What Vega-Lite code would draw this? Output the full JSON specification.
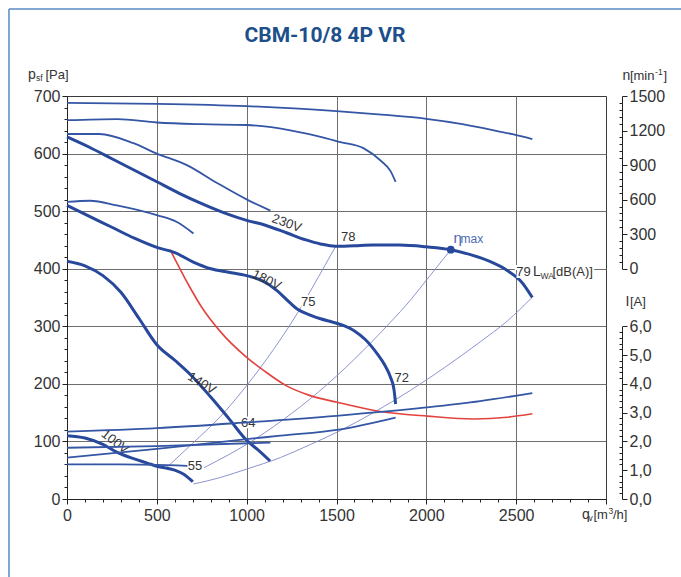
{
  "$schema": "https://vega.github.io/schema/vega-lite/v6.json",
  "width": 539,
  "height": 403,
  "autosize": "none",
  "padding": {"left": 67, "top": 96, "right": 75, "bottom": 78},
  "background": "white",
  "config": {
    "view": {"stroke": "#3a3a3a", "strokeWidth": 1},
    "font": "Liberation Sans",
    "axis": {"labelFont": "Liberation Sans", "labelColor": "#333", "labelFontSize": 16, "domainColor": "#222", "tickColor": "#222", "gridColor": "#6e6e6e", "gridOpacity": 1, "labelOverlap": false, "labelFlush": false, "title": null}
  },
  "datasets": {
    "frame": [
      {"q": -323, "p": -140, "q2": -323, "p2": 851},
      {"q": -323, "p": 851, "q2": 3430, "p2": 851}
    ],
    "fan": [
      {"s": "230V", "q": 0, "p": 629}, {"s": "230V", "q": 125, "p": 611}, {"s": "230V", "q": 250, "p": 591}, {"s": "230V", "q": 375, "p": 571}, {"s": "230V", "q": 500, "p": 551}, {"s": "230V", "q": 625, "p": 531}, {"s": "230V", "q": 750, "p": 513}, {"s": "230V", "q": 875, "p": 497}, {"s": "230V", "q": 1000, "p": 484}, {"s": "230V", "q": 1100, "p": 476}, {"s": "230V", "q": 1225, "p": 462}, {"s": "230V", "q": 1330, "p": 450}, {"s": "230V", "q": 1411, "p": 443}, {"s": "230V", "q": 1494, "p": 439}, {"s": "230V", "q": 1600, "p": 440}, {"s": "230V", "q": 1700, "p": 441}, {"s": "230V", "q": 1850, "p": 441}, {"s": "230V", "q": 2000, "p": 438}, {"s": "230V", "q": 2136, "p": 433}, {"s": "230V", "q": 2250, "p": 424}, {"s": "230V", "q": 2350, "p": 413}, {"s": "230V", "q": 2450, "p": 397}, {"s": "230V", "q": 2530, "p": 377}, {"s": "230V", "q": 2590, "p": 350},
      {"s": "180V", "q": 0, "p": 510}, {"s": "180V", "q": 125, "p": 491}, {"s": "180V", "q": 250, "p": 472}, {"s": "180V", "q": 375, "p": 453}, {"s": "180V", "q": 500, "p": 437}, {"s": "180V", "q": 600, "p": 428}, {"s": "180V", "q": 700, "p": 412}, {"s": "180V", "q": 800, "p": 400}, {"s": "180V", "q": 900, "p": 394}, {"s": "180V", "q": 1000, "p": 388}, {"s": "180V", "q": 1080, "p": 380}, {"s": "180V", "q": 1169, "p": 362}, {"s": "180V", "q": 1230, "p": 344}, {"s": "180V", "q": 1281, "p": 330}, {"s": "180V", "q": 1350, "p": 320}, {"s": "180V", "q": 1411, "p": 313}, {"s": "180V", "q": 1480, "p": 307}, {"s": "180V", "q": 1541, "p": 301}, {"s": "180V", "q": 1600, "p": 292}, {"s": "180V", "q": 1660, "p": 277}, {"s": "180V", "q": 1727, "p": 252}, {"s": "180V", "q": 1770, "p": 232}, {"s": "180V", "q": 1800, "p": 212}, {"s": "180V", "q": 1820, "p": 190}, {"s": "180V", "q": 1829, "p": 165},
      {"s": "140V", "q": 0, "p": 413}, {"s": "140V", "q": 100, "p": 405}, {"s": "140V", "q": 200, "p": 388}, {"s": "140V", "q": 300, "p": 359}, {"s": "140V", "q": 400, "p": 314}, {"s": "140V", "q": 500, "p": 268}, {"s": "140V", "q": 600, "p": 241}, {"s": "140V", "q": 700, "p": 212}, {"s": "140V", "q": 800, "p": 177}, {"s": "140V", "q": 900, "p": 140}, {"s": "140V", "q": 1000, "p": 102}, {"s": "140V", "q": 1060, "p": 86}, {"s": "140V", "q": 1130, "p": 66},
      {"s": "100V", "q": 0, "p": 110}, {"s": "100V", "q": 100, "p": 106}, {"s": "100V", "q": 200, "p": 95}, {"s": "100V", "q": 280, "p": 81}, {"s": "100V", "q": 370, "p": 70}, {"s": "100V", "q": 450, "p": 62}, {"s": "100V", "q": 500, "p": 57}, {"s": "100V", "q": 600, "p": 50}, {"s": "100V", "q": 650, "p": 43}, {"s": "100V", "q": 700, "p": 30}
    ],
    "red": [
      {"q": 574, "p": 433}, {"q": 620, "p": 405}, {"q": 680, "p": 370}, {"q": 750, "p": 333}, {"q": 850, "p": 292}, {"q": 1000, "p": 246}, {"q": 1100, "p": 222}, {"q": 1225, "p": 196}, {"q": 1350, "p": 180}, {"q": 1504, "p": 168}, {"q": 1727, "p": 153}, {"q": 2006, "p": 144}, {"q": 2266, "p": 139}, {"q": 2450, "p": 142}, {"q": 2590, "p": 148}
    ],
    "sys": [
      {"s": "B", "q": 556, "p": 55}, {"s": "B", "q": 700, "p": 97}, {"s": "B", "q": 850, "p": 142}, {"s": "B", "q": 1000, "p": 197}, {"s": "B", "q": 1150, "p": 260}, {"s": "B", "q": 1281, "p": 322}, {"s": "B", "q": 1400, "p": 386}, {"s": "B", "q": 1494, "p": 438},
      {"s": "C", "q": 760, "p": 54}, {"s": "C", "q": 900, "p": 77}, {"s": "C", "q": 1000, "p": 95}, {"s": "C", "q": 1200, "p": 137}, {"s": "C", "q": 1400, "p": 186}, {"s": "C", "q": 1600, "p": 243}, {"s": "C", "q": 1800, "p": 307}, {"s": "C", "q": 1913, "p": 346}, {"s": "C", "q": 2000, "p": 380}, {"s": "C", "q": 2136, "p": 433},
      {"s": "D", "q": 704, "p": 26}, {"s": "D", "q": 850, "p": 37}, {"s": "D", "q": 1000, "p": 52}, {"s": "D", "q": 1188, "p": 72}, {"s": "D", "q": 1350, "p": 94}, {"s": "D", "q": 1522, "p": 119}, {"s": "D", "q": 1700, "p": 149}, {"s": "D", "q": 1913, "p": 189}, {"s": "D", "q": 2100, "p": 228}, {"s": "D", "q": 2300, "p": 273}, {"s": "D", "q": 2450, "p": 309}, {"s": "D", "q": 2588, "p": 350}
    ],
    "eta": [{"q": 2136, "p": 433}],
    "speed": [
      {"s": "230V", "q": 0, "n": 1440}, {"s": "230V", "q": 500, "n": 1432}, {"s": "230V", "q": 1000, "n": 1412}, {"s": "230V", "q": 1500, "n": 1368}, {"s": "230V", "q": 1750, "n": 1338}, {"s": "230V", "q": 2000, "n": 1302}, {"s": "230V", "q": 2200, "n": 1256}, {"s": "230V", "q": 2350, "n": 1210}, {"s": "230V", "q": 2480, "n": 1168}, {"s": "230V", "q": 2590, "n": 1125},
      {"s": "180V", "q": 0, "n": 1290}, {"s": "180V", "q": 280, "n": 1300}, {"s": "180V", "q": 500, "n": 1270}, {"s": "180V", "q": 750, "n": 1255}, {"s": "180V", "q": 1000, "n": 1248}, {"s": "180V", "q": 1250, "n": 1200}, {"s": "180V", "q": 1400, "n": 1150}, {"s": "180V", "q": 1522, "n": 1100}, {"s": "180V", "q": 1652, "n": 1045}, {"s": "180V", "q": 1745, "n": 940}, {"s": "180V", "q": 1800, "n": 850}, {"s": "180V", "q": 1829, "n": 755},
      {"s": "140V", "q": 0, "n": 1170}, {"s": "140V", "q": 180, "n": 1170}, {"s": "140V", "q": 370, "n": 1090}, {"s": "140V", "q": 500, "n": 1000}, {"s": "140V", "q": 667, "n": 900}, {"s": "140V", "q": 835, "n": 745}, {"s": "140V", "q": 1002, "n": 600}, {"s": "140V", "q": 1132, "n": 505},
      {"s": "100V", "q": 0, "n": 580}, {"s": "100V", "q": 128, "n": 590}, {"s": "100V", "q": 277, "n": 550}, {"s": "100V", "q": 500, "n": 465}, {"s": "100V", "q": 612, "n": 405}, {"s": "100V", "q": 704, "n": 305}
    ],
    "current": [
      {"s": "230V", "q": 0, "a": 2.34}, {"s": "230V", "q": 500, "a": 2.46}, {"s": "230V", "q": 1000, "a": 2.66}, {"s": "230V", "q": 1500, "a": 2.89}, {"s": "230V", "q": 2000, "a": 3.18}, {"s": "230V", "q": 2300, "a": 3.4}, {"s": "230V", "q": 2590, "a": 3.68},
      {"s": "180V", "q": 0, "a": 1.44}, {"s": "180V", "q": 500, "a": 1.74}, {"s": "180V", "q": 1000, "a": 2.08}, {"s": "180V", "q": 1188, "a": 2.2}, {"s": "180V", "q": 1522, "a": 2.42}, {"s": "180V", "q": 1829, "a": 2.83},
      {"s": "140V", "q": 0, "a": 1.78}, {"s": "140V", "q": 500, "a": 1.84}, {"s": "140V", "q": 1132, "a": 1.96},
      {"s": "100V", "q": 0, "a": 1.2}, {"s": "100V", "q": 300, "a": 1.2}, {"s": "100V", "q": 670, "a": 1.15}
    ],
    "heading": [{"t": "CBM-10/8 4P VR", "q": 1436, "p": 794}],
    "bigText": [
      {"t": "p", "q": -217, "p": 729.5},
      {"t": "n", "q": 3092, "p": 727.8},
      {"t": "I", "q": 3108, "p": 334.4},
      {"t": "q", "q": 2866, "p": -34.7},
      {"t": "L", "q": 2594, "p": 386.5}
    ],
    "midText": [
      {"t": "[Pa]", "q": -120, "p": 729.5},
      {"t": "[min", "q": 3133, "p": 727.8},
      {"t": "]", "q": 3320, "p": 727.8},
      {"t": "[A]", "q": 3133, "p": 334.4},
      {"t": "[m", "q": 2930, "p": -34.7},
      {"t": "/h]", "q": 3039, "p": -34.7},
      {"t": "79", "q": 2500, "p": 386.5},
      {"t": "[dB(A)]", "q": 2702, "p": 386.5}
    ],
    "smallText": [
      {"t": "sf", "q": -172, "p": 725.2},
      {"t": "-1", "q": 3273, "p": 737.3},
      {"t": "v", "q": 2903, "p": -38.2},
      {"t": "3", "q": 3014, "p": -25.2},
      {"t": "WA", "q": 2636, "p": 382.1}
    ],
    "etaBig": [{"t": "η", "q": 2151, "p": 443.8}],
    "etaSmall": [{"t": "max", "q": 2190, "p": 443.8}],
    "noise": [
      {"t": "78", "q": 1566, "p": 455.6},
      {"t": "75", "q": 1343, "p": 342.7},
      {"t": "72", "q": 1863, "p": 209.7},
      {"t": "64", "q": 1009, "p": 132.5},
      {"t": "55", "q": 712, "p": 57.8}
    ],
    "volt": [
      {"t": "230V", "q": 1223, "p": 478.9},
      {"t": "180V", "q": 1111, "p": 380.4},
      {"t": "140V", "q": 750, "p": 201},
      {"t": "100V", "q": 267, "p": 99.5}
    ]
  },
  "encoding": {
    "x": {"field": "q", "type": "quantitative", "scale": {"domain": [0, 3000], "nice": false, "zero": false}, "axis": null},
    "y": {"field": "p", "type": "quantitative", "scale": {"domain": [0, 700], "nice": false, "zero": false}, "axis": null}
  },
  "layer": [
    {
      "data": {"name": "sys"},
      "mark": {"type": "line", "color": "#8088c8", "strokeWidth": 0.9, "interpolate": "monotone"},
      "encoding": {
        "x": {"field": "q", "type": "quantitative", "scale": {"domain": [0, 3000], "nice": false, "zero": false},
          "axis": {"orient": "bottom", "values": [500, 1000, 1500, 2000, 2500], "grid": true, "labels": false, "ticks": false, "domain": false, "title": null}},
        "y": {"field": "p", "type": "quantitative", "scale": {"domain": [0, 700], "nice": false, "zero": false},
          "axis": {"orient": "left", "values": [100, 200, 300, 400, 500, 600], "grid": true, "labels": false, "ticks": false, "domain": false, "title": null}},
        "detail": {"field": "s"}
      }
    },
    {
      "data": {"name": "red"},
      "mark": {"type": "line", "color": "#e2433f", "strokeWidth": 1.6, "interpolate": "monotone"},
      "encoding": {
        "x": {"field": "q", "type": "quantitative", "scale": {"domain": [0, 3000], "nice": false, "zero": false},
          "axis": {"orient": "bottom", "values": [100,200,300,400,600,700,800,900,1100,1200,1300,1400,1600,1700,1800,1900,2100,2200,2300,2400,2600,2700,2800,2900], "grid": false, "labels": false, "ticks": true, "tickSize": 3, "domain": false, "title": null}},
        "y": {"field": "p", "type": "quantitative", "scale": {"domain": [0, 700], "nice": false, "zero": false},
          "axis": {"orient": "left", "values": [20,40,60,80,120,140,160,180,220,240,260,280,320,340,360,380,420,440,460,480,520,540,560,580,620,640,660,680], "grid": false, "labels": false, "ticks": true, "tickSize": 3, "domain": false, "title": null}}
      }
    },
    {
      "data": {"name": "fan"},
      "mark": {"type": "line", "color": "#27489b", "strokeWidth": 3, "interpolate": "monotone"},
      "encoding": {
        "x": {"field": "q", "type": "quantitative", "scale": {"domain": [0, 3000], "nice": false, "zero": false},
          "axis": {"orient": "bottom", "values": [0, 500, 1000, 1500, 2000, 2500, 3000], "labelExpr": "datum.value < 3000 ? '' + datum.value : ''", "grid": false, "tickSize": 5, "labelPadding": 3, "title": null}},
        "y": {"field": "p", "type": "quantitative", "scale": {"domain": [0, 700], "nice": false, "zero": false},
          "axis": {"orient": "left", "values": [0, 100, 200, 300, 400, 500, 600, 700], "format": "d", "grid": false, "tickSize": 5, "labelPadding": 2, "title": null}},
        "detail": {"field": "s"}
      }
    },
    {
      "data": {"name": "frame"},
      "mark": {"type": "rule", "color": "#5a8ac6", "strokeWidth": 1.5},
      "encoding": {
        "x2": {"field": "q2"},
        "y2": {"field": "p2"}
      }
    },
    {
      "data": {"name": "eta"},
      "mark": {"type": "point", "filled": true, "color": "#27489b", "size": 60, "opacity": 1}
    },
    {
      "data": {"name": "noise"},
      "mark": {"type": "text", "fontSize": 13, "color": "white", "stroke": "white", "strokeWidth": 4},
      "encoding": {"text": {"field": "t"}}
    },
    {
      "data": {"name": "noise"},
      "mark": {"type": "text", "fontSize": 13, "color": "#333"},
      "encoding": {"text": {"field": "t"}}
    },
    {
      "data": {"name": "volt"},
      "mark": {"type": "text", "fontSize": 13, "color": "#333"},
      "encoding": {
        "text": {"field": "t"},
        "angle": {"field": "t", "type": "nominal", "scale": {"domain": ["230V", "180V", "140V", "100V"], "range": [20, 38, 55, 30]}, "legend": null}
      }
    },
    {
      "data": {"name": "heading"},
      "mark": {"type": "text", "font": "Liberation Sans Narrow, Roboto, sans-serif", "fontWeight": "bold", "fontSize": 21, "color": "#1d4f8a", "align": "center", "baseline": "alphabetic"},
      "encoding": {"text": {"field": "t"}}
    },
    {
      "data": {"name": "midText"},
      "transform": [{"filter": "datum.t === '[dB(A)]' || datum.t === '79'"}],
      "mark": {"type": "text", "fontSize": 13, "color": "white", "stroke": "white", "strokeWidth": 4, "align": "left", "baseline": "alphabetic"},
      "encoding": {"text": {"field": "t"}}
    },
    {
      "data": {"name": "bigText"},
      "transform": [{"filter": "datum.t === 'L'"}],
      "mark": {"type": "text", "fontSize": 14, "color": "white", "stroke": "white", "strokeWidth": 9, "align": "left", "baseline": "alphabetic"},
      "encoding": {"text": {"field": "t"}}
    },
    {
      "data": {"name": "smallText"},
      "transform": [{"filter": "datum.t === 'WA'"}],
      "mark": {"type": "text", "fontSize": 8.5, "color": "white", "stroke": "white", "strokeWidth": 11, "align": "left", "baseline": "alphabetic"},
      "encoding": {"text": {"field": "t"}}
    },
    {
      "data": {"name": "bigText"},
      "mark": {"type": "text", "fontSize": 14, "color": "#333", "align": "left", "baseline": "alphabetic"},
      "encoding": {"text": {"field": "t"}}
    },
    {
      "data": {"name": "midText"},
      "mark": {"type": "text", "fontSize": 13, "color": "#333", "align": "left", "baseline": "alphabetic"},
      "encoding": {"text": {"field": "t"}}
    },
    {
      "data": {"name": "smallText"},
      "mark": {"type": "text", "fontSize": 8.5, "color": "#333", "align": "left", "baseline": "alphabetic"},
      "encoding": {"text": {"field": "t"}}
    },
    {
      "data": {"name": "etaBig"},
      "mark": {"type": "text", "fontSize": 15, "color": "#4a6cb3", "align": "left", "baseline": "alphabetic"},
      "encoding": {"text": {"field": "t"}}
    },
    {
      "data": {"name": "etaSmall"},
      "mark": {"type": "text", "fontSize": 12, "color": "#4a6cb3", "align": "left", "baseline": "alphabetic"},
      "encoding": {"text": {"field": "t"}}
    },
    {
      "data": {"name": "speed"},
      "mark": {"type": "line", "color": "#3456a5", "strokeWidth": 1.8, "interpolate": "monotone"},
      "encoding": {
        "y": {"field": "n", "type": "quantitative", "scale": {"domain": [0, 1500], "range": [172.7, 0], "nice": false, "zero": false},
          "axis": {"orient": "right", "offset": 16, "title": null, "grid": false,
            "values": [0,60,120,180,240,300,360,420,480,540,600,660,720,780,840,900,960,1020,1080,1140,1200,1260,1320,1380,1440,1500],
            "labelExpr": "datum.value % 300 === 0 ? '' + datum.value : ''",
            "tickSize": {"condition": {"test": "datum.value % 300 === 0", "value": 5}, "value": -3},
            "labelPadding": 2}},
        "detail": {"field": "s"}
      }
    },
    {
      "data": {"name": "current"},
      "mark": {"type": "line", "color": "#3456a5", "strokeWidth": 1.8, "interpolate": "monotone"},
      "encoding": {
        "y": {"field": "a", "type": "quantitative", "scale": {"domain": [0, 6], "range": [403, 230.3], "nice": false, "zero": false},
          "axis": {"orient": "right", "offset": 16, "title": null, "grid": false,
            "values": [0,0.2,0.4,0.6,0.8,1,1.2,1.4,1.6,1.8,2,2.2,2.4,2.6,2.8,3,3.2,3.4,3.6,3.8,4,4.2,4.4,4.6,4.8,5,5.2,5.4,5.6,5.8,6],
            "labelExpr": "abs(datum.value - round(datum.value)) < 0.01 ? replace(format(datum.value, '.1f'), '.', ',') : ''",
            "tickSize": {"condition": {"test": "abs(datum.value - round(datum.value)) < 0.01", "value": 5}, "value": -3},
            "labelPadding": 2}},
        "detail": {"field": "s"}
      }
    }
  ],
  "resolve": {"scale": {"y": "independent"}, "axis": {"x": "independent", "y": "independent"}}
}
